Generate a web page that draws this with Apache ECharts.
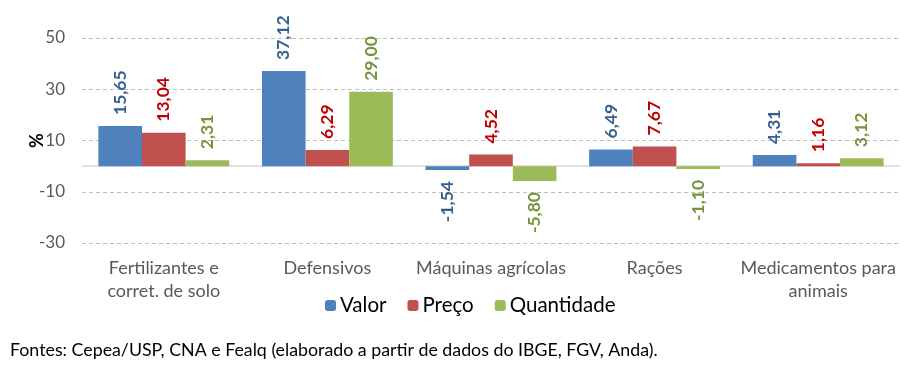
<!DOCTYPE html>
<html>
<head>
<meta charset="utf-8">
<script src="https://cdn.jsdelivr.net/npm/echarts@6/dist/echarts.min.js"></script>
<style>
  html, body { margin: 0; padding: 0; background: #fff; }
  #chart { width: 909px; height: 376px; }
</style>
</head>
<body>
<div id="chart"></div>
<script>
// dados
var categories = ['Fertilizantes e\ncorret. de solo', 'Defensivos', 'Máquinas agrícolas', 'Rações', 'Medicamentos para\nanimais'];
var valor = [15.65, 37.12, -1.54, 6.49, 4.31];
var preco = [13.04, 6.29, 4.52, 7.67, 1.16];
var quantidade = [2.31, 29.00, -5.80, -1.10, 3.12];
var yTicks = [-30, -10, 10, 30, 50];

var fonte = 'Lato, "Open Sans", sans-serif';

function fmt(p) {
    return p.value.toFixed(2).replace('.', ',');
}

// negative bars get their label below the bar
function toData(arr) {
    return arr.map(function (v) {
        if (v < 0) {
            return { value: v, label: { position: 'bottom', align: 'right' } };
        }
        return v;
    });
}

function makeSeries(name, arr, color, labelColor) {
    return {
        name: name,
        type: 'bar',
        data: toData(arr),
        barGap: '0%',
        barCategoryGap: '20%',
        itemStyle: { color: color },
        label: {
            show: true,
            position: 'top',
            rotate: 90,
            align: 'left',
            verticalAlign: 'middle',
            distance: 11,
            color: labelColor,
            fontFamily: fonte,
            fontWeight: 'bold',
            fontSize: 17.5,
            formatter: fmt
        }
    };
}

var chartDom = document.getElementById('chart');
var myChart = echarts.init(chartDom);
var option;

option = {
    animation: false,
    textStyle: { fontFamily: fonte },
    title: {
        text: 'Fontes: Cepea/USP, CNA e Fealq (elaborado a partir de dados do IBGE, FGV, Anda).',
        left: 5,
        top: 336,
        textStyle: { fontSize: 17.8, fontWeight: 'normal', color: '#000', fontFamily: fonte }
    },
    legend: {
        data: ['Valor', 'Preço', 'Quantidade'],
        left: 320,
        top: 290,
        itemWidth: 11,
        itemHeight: 11,
        itemGap: 21,
        textStyle: { fontSize: 20.5, color: '#000', fontFamily: fonte, padding: [0, 0, 0, -1] }
    },
    grid: {
        left: 82,
        right: 9,
        top: 38,
        bottom: 133
    },
    xAxis: {
        type: 'category',
        data: categories,
        axisTick: { show: false },
        axisLine: { onZero: true, lineStyle: { color: '#d9d9d9', width: 1.5 } },
        axisLabel: {
            show: true,
            interval: 0,
            margin: 14,
            fontSize: 18,
            lineHeight: 23,
            color: '#595959',
            fontFamily: fonte
        },
        position: 'bottom'
    },
    yAxis: {
        type: 'value',
        min: yTicks[0],
        max: yTicks[yTicks.length - 1],
        interval: 20,
        name: '%',
        nameLocation: 'middle',
        nameRotate: 90,
        nameGap: 36,
        nameMoveOverlap: false,
        nameTextStyle: { fontSize: 18, fontWeight: 'bold', color: '#000', fontFamily: fonte },
        axisLine: { show: false },
        axisTick: { show: false },
        axisLabel: { fontSize: 17, color: '#595959', margin: 17, fontFamily: fonte },
        splitLine: { lineStyle: { color: '#bfbfbf', type: [4, 3] } }
    },
    series: [
        makeSeries('Valor', valor, '#4f81bd', '#376092'),
        makeSeries('Preço', preco, '#c0504d', '#c00000'),
        makeSeries('Quantidade', quantidade, '#9bbb59', '#77933c')
    ]
};

option && myChart.setOption(option);
</script>
</body>
</html>
